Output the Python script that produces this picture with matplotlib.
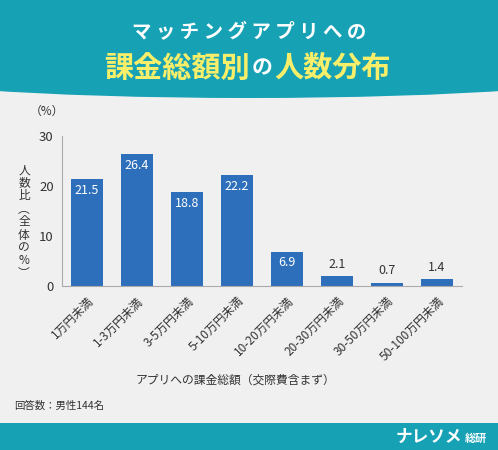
import matplotlib
matplotlib.use('Agg')
import matplotlib.pyplot as plt
import numpy as np
from matplotlib.patches import Rectangle, Ellipse

plt.rcParams['font.family'] = ['Noto Sans CJK JP', 'DejaVu Sans']

categories = ['1万円未満', '1-3万円未満', '3-5万円未満', '5-10万円未満',
              '10-20万円未満', '20-30万円未満', '30-50万円未満', '50-100万円未満']
values = [21.5, 26.4, 18.8, 22.2, 6.9, 2.1, 0.7, 1.4]
yticks = [0, 10, 20, 30]

TEAL = '#17a1b5'
BAR = '#2d6fba'
BG = '#f0f0f0'
DARK = '#333333'

fig = plt.figure(figsize=(4.98, 4.5), dpi=100, facecolor=BG)

# header banner with curved bottom, footer band and loose texts (pixel coords)
hdr = fig.add_axes([0, 0, 1, 1], zorder=0)
hdr.set_xlim(0, 498); hdr.set_ylim(450, 0); hdr.axis('off')
hdr.add_patch(Rectangle((0, 0), 498, 80, color=TEAL, lw=0))
hdr.add_patch(Ellipse((249, 70), 760, 56, color=TEAL, lw=0))
hdr.add_patch(Rectangle((0, 423), 498, 27, color=TEAL, lw=0))
hdr.text(249, 32, ' '.join('マッチングアプリへの'), color='white', fontsize=14,
         ha='center', va='center', fontweight='bold')
hdr.text(250, 68, '課金総額別', color='#f7ee6a', fontsize=21, ha='right', va='center', fontweight='bold')
hdr.text(262, 68, 'の', color='white', fontsize=15, ha='center', va='center', fontweight='bold')
hdr.text(274, 68, '人数分布', color='#f7ee6a', fontsize=21, ha='left', va='center', fontweight='bold')
hdr.text(47, 111, '（%）', color=DARK, fontsize=8.5, ha='center', va='center')
hdr.text(14, 406, '回答数：男性144名', color=DARK, fontsize=7.5, ha='left', va='center')
hdr.text(462, 437, 'ナレソメ', color='white', fontsize=12, ha='right', va='center', fontweight='bold')
hdr.text(487, 438, '総研', color='white', fontsize=8, ha='right', va='center', fontweight='bold')
hdr.text(235, 380, 'アプリへの課金総額（交際費含まず）', color=DARK, fontsize=8.5,
         ha='center', va='center')
hdr.text(24, 222, '\n'.join('人数比︵全体の%︶'), color=DARK, fontsize=8.5, ha='center',
         va='center', linespacing=1.0)

ax = fig.add_axes([62 / 498, 1 - 286 / 450, 400 / 498, 150 / 450], zorder=1)
ax.patch.set_alpha(0)
x = np.arange(len(categories))
ax.bar(x, values, width=0.64, color=BAR)
for xi, v in zip(x, values):
    if v > 5:
        ax.text(xi, v - 1.0, f'{v}', color='white', ha='center', va='top', fontsize=9)
    else:
        ax.text(xi, v + 1.0, f'{v}', color=DARK, ha='center', va='bottom', fontsize=9)
ax.set_xlim(-0.5, 7.5)
ax.set_ylim(0, 30)
ax.set_yticks(yticks)
ax.set_yticklabels([str(t) for t in yticks], fontsize=9.5, color=DARK)
ax.set_xticks(x)
ax.set_xticklabels(categories, rotation=45, ha='right', rotation_mode='anchor',
                   fontsize=8.5, color=DARK)
ax.tick_params(length=0, pad=6)
for s in ['top', 'right']:
    ax.spines[s].set_visible(False)
ax.spines['left'].set_color('#aaaaaa')
ax.spines['bottom'].set_color('#aaaaaa')

fig.savefig('out.png', dpi=100, facecolor=BG)
